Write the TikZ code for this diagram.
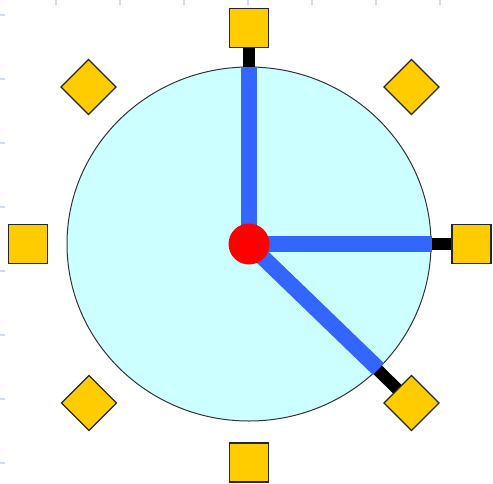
\documentclass[tikz,border=0pt]{standalone}
\usetikzlibrary{shapes.geometric}
\definecolor{facefill}{HTML}{CCFFFF}
\definecolor{gold}{HTML}{FFCC00}
\definecolor{handblue}{HTML}{3366FF}
\definecolor{tickblue}{HTML}{CCD8FF}
\pgfdeclarelayer{bg}
\pgfdeclarelayer{mid}
\pgfsetlayers{bg,mid,main}
\tikzset{
  face/.style={ellipse, draw=black!80, line width=1pt, fill=facefill, minimum width=364pt, minimum height=354pt, inner sep=0pt},
  marker/.style={rectangle, draw=black!85, line width=1.2pt, fill=gold, minimum size=39pt, inner sep=0pt},
  diam/.style={marker, rotate=45},
  hub/.style={circle, fill=red, minimum size=41pt, inner sep=0pt},
  stub/.style={line width=12pt, black},
  hand/.style={line width=16pt, handblue},
  tick/.style={line width=2pt, tickblue}
}
\begin{document}
\begin{tikzpicture}[x=1pt, y=-1pt]
\useasboundingbox (0,0) rectangle (493,483);
\begin{pgfonlayer}{bg}
\fill[white] (0,0) rectangle (493,483);
\foreach \x in {56,120,184,248,312,376,440} \draw[tick] (\x,0) -- (\x,5);
\foreach \y in {15,79,143,207,271,335,399,463} \draw[tick] (0,\y) -- (5,\y);
\node[face] (face) at (249,244) {};
\end{pgfonlayer}
\node[marker] (top) at (249,28) {};
\node[marker] (bottom) at (249,462.5) {};
\node[marker] (left) at (28,244) {};
\node[marker] (right) at (471.5,244) {};
\node[diam] (tl) at (88.5,87) {};
\node[diam] (tr) at (411.5,87) {};
\node[diam] (bl) at (89,403) {};
\node[diam] (br) at (411.5,403) {};
\node[hub] (hub) at (249,244) {};
\begin{pgfonlayer}{mid}
\draw[stub] (hub.center) -- (top.center);
\draw[stub] (hub.center) -- (right.center);
\draw[stub] (hub.center) -- (br.center);
\draw[hand] (hub.center) -- (face.north);
\draw[hand] (hub.center) -- (face.east);
\draw[hand] (hub.center) -- (face.-44.4);
\end{pgfonlayer}
\end{tikzpicture}
\end{document}
